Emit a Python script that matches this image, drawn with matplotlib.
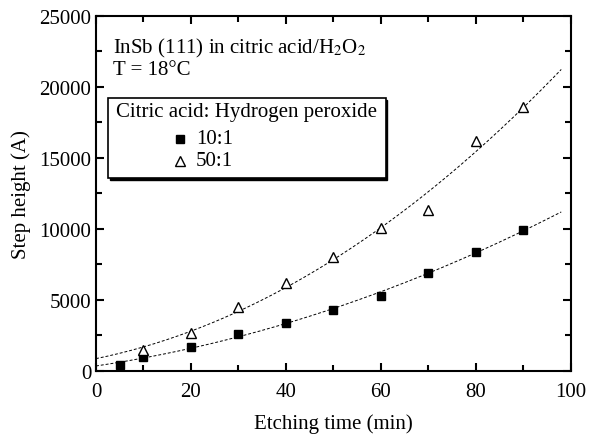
import numpy as np
import matplotlib.pyplot as plt
from matplotlib.patches import Rectangle

plt.rcParams['font.family'] = ['Liberation Serif', 'DejaVu Serif']
plt.rcParams['mathtext.fontset'] = 'stix'

# data
t_10 = [5, 10, 20, 30, 40, 50, 60, 70, 80, 90]
h_10 = [400, 1000, 1700, 2600, 3400, 4300, 5300, 6900, 8400, 9900]
t_50 = [10, 20, 30, 40, 50, 60, 70, 80, 90]
h_50 = [1500, 2700, 4500, 6200, 8000, 10100, 11300, 16200, 18600]

fs = 15

fig = plt.figure(figsize=(5.89, 4.35), dpi=100)
ax = fig.add_axes([0.163, 0.145, 0.806, 0.816])

# quadratic fits
tt = np.linspace(0, 98, 200)
p10 = np.polyfit(t_10, h_10, 2)
p50 = np.polyfit(t_50, h_50, 2)
ax.plot(tt, np.polyval(p10, tt), color='k', lw=0.7, ls=(0, (3, 2)))
ax.plot(tt, np.polyval(p50, tt), color='k', lw=0.7, ls=(0, (3, 2)))

ax.plot(t_10, h_10, 's', color='k', ms=6, ls='none')
ax.plot(t_50, h_50, '^', mfc='white', mec='k', mew=1.0, ms=7, ls='none')

ax.set_xlim(0, 100)
ax.set_ylim(0, 25000)
ax.set_xticks(range(0, 101, 20))
ax.set_xticks(range(0, 101, 10), minor=True)
ax.set_yticks(range(0, 25001, 5000))
ax.set_yticks(range(0, 25001, 2500), minor=True)
ax.tick_params(which='both', direction='in', top=True, right=True, labelsize=fs, width=1.5)
ax.tick_params(which='major', length=6)
ax.tick_params(which='minor', length=4)
ax.tick_params(axis='x', which='major', pad=8)
for s in ax.spines.values():
    s.set_linewidth(1.5)

ax.set_xlabel('Etching time (min)', fontsize=fs, labelpad=9)
ax.set_ylabel('Step height (A)', fontsize=fs, labelpad=6)

ax.text(3.6, 22750, 'InSb (111) in citric acid/H$_2$O$_2$', fontsize=fs, va='center')
ax.text(3.6, 21200, 'T = 18°C', fontsize=fs, va='center')

# legend box with shadow
ax.add_patch(Rectangle((2.9, 13450), 58.5, 5650, transform=ax.transData,
                       fc='black', ec='black', zorder=4))
ax.add_patch(Rectangle((2.5, 13600), 58.5, 5650, transform=ax.transData,
                       fc='white', ec='black', lw=1.2, zorder=5))
ax.text(4.3, 18240, 'Citric acid: Hydrogen peroxide', fontsize=fs, va='center', zorder=6)
ax.plot([17.7], [16340], 's', color='k', ms=6, zorder=6)
ax.text(21.0, 16340, '10:1', fontsize=fs, va='center', zorder=6)
ax.plot([17.7], [14790], '^', mfc='white', mec='k', ms=7, zorder=6)
ax.text(21.0, 14790, '50:1', fontsize=fs, va='center', zorder=6)

plt.savefig('out.png', dpi=100)
